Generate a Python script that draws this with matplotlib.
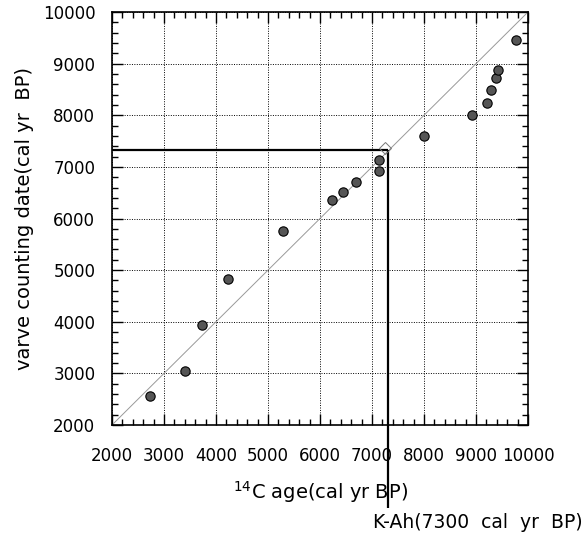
import numpy as np
import matplotlib.pyplot as plt
from matplotlib.ticker import MultipleLocator
from matplotlib.transforms import blended_transform_factory

# ---------- data ----------
c14_age = [2740, 3400, 3725, 4240, 5280, 6240, 6435, 6690, 7140, 7140,
           8005, 8920, 9205, 9295, 9390, 9430, 9770]
varve_age = [2560, 3050, 3930, 4820, 5760, 6360, 6520, 6715, 6930, 7140,
             7590, 8010, 8240, 8480, 8715, 8880, 9460]
kah_age = 7300          # K-Ah tephra
kah_varve = 7330
ticks = [2000, 3000, 4000, 5000, 6000, 7000, 8000, 9000, 10000]

fig = plt.figure(figsize=(5.87, 5.34), dpi=100)
ax = fig.add_axes([0.1908, 0.2041, 0.7087, 0.7734])

# 1:1 line
ax.plot([ticks[0], ticks[-1]], [ticks[0], ticks[-1]], color='#999999', lw=0.7, zorder=2)

# data points
ax.scatter(c14_age, varve_age, s=45, facecolor='#555555', edgecolor='black',
           linewidth=0.8, zorder=4)

# K-Ah marker lines
ax.plot([ticks[0], kah_age], [kah_varve, kah_varve], color='black', lw=1.6,
        zorder=3, solid_capstyle='butt')
tr = blended_transform_factory(ax.transData, ax.transAxes)
ytop = (kah_varve - ticks[0]) / (ticks[-1] - ticks[0])
ax.plot([kah_age, kah_age], [ytop, -0.20], color='black', lw=1.6, transform=tr,
        clip_on=False, zorder=3, solid_capstyle='butt')
ax.plot([kah_age - 45], [kah_varve + 30], marker='D', ms=6, mfc='none',
        mec='#777777', mew=0.7, zorder=5)
ax.text(0.628, -0.236, 'K-Ah(7300  cal  yr  BP)', transform=ax.transAxes,
        fontsize=13.5, ha='left', va='center')

ax.set_xlim(ticks[0], ticks[-1])
ax.set_ylim(ticks[0], ticks[-1])
ax.set_xticks(ticks)
ax.set_yticks(ticks)
ax.set_xticklabels([str(t) for t in ticks])
ax.set_yticklabels([str(t) for t in ticks])
ax.xaxis.set_minor_locator(MultipleLocator(200))
ax.yaxis.set_minor_locator(MultipleLocator(200))
ax.tick_params(which='both', direction='in', top=True, right=True, width=1.0)
ax.tick_params(which='major', length=8, labelsize=12)
ax.tick_params(which='minor', length=4)
ax.tick_params(axis='x', which='major', pad=16)
ax.tick_params(axis='y', which='major', pad=12)
ax.grid(True, which='major', linestyle=(0, (1, 1.5)), color='black', lw=0.7)

for sp in ax.spines.values():
    sp.set_linewidth(1.2)

ax.set_xlabel('$^{14}$C age(cal yr BP)', fontsize=14, labelpad=10)
ax.set_ylabel('varve counting date(cal yr  BP)', fontsize=14, labelpad=6)

fig.savefig('out.png', dpi=100)
